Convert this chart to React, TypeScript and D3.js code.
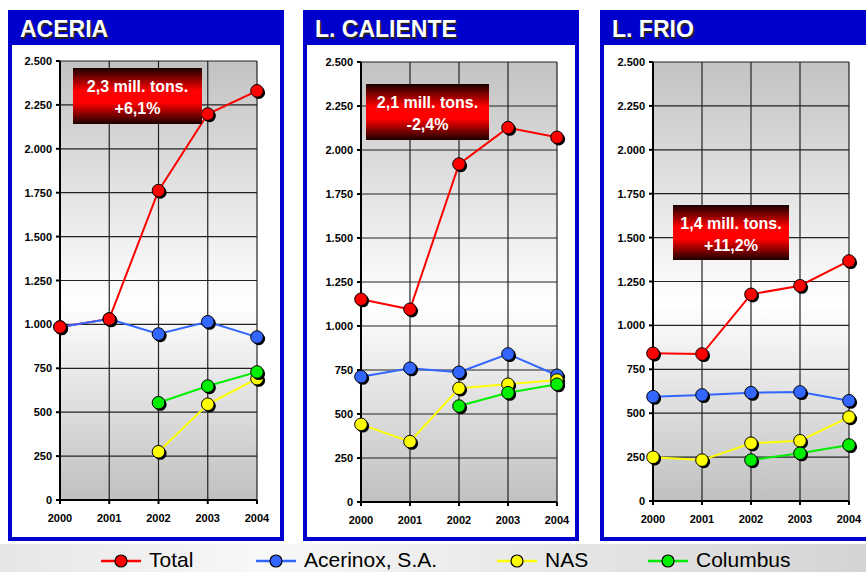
import React from "react";
import * as d3 from "d3";

const years = [2000, 2001, 2002, 2003, 2004];
const yTicks = [0, 250, 500, 750, 1000, 1250, 1500, 1750, 2000, 2250, 2500];
const seriesNames = ["Total", "Acerinox, S.A.", "NAS", "Columbus"];
const seriesColors = ["#ff0000", "#3366ff", "#ffff00", "#00ee00"];

const panelTitles = ["ACERIA", "L. CALIENTE", "L. FRIO"];
const boxLine1 = ["2,3 mill. tons.", "2,1 mill. tons.", "1,4 mill. tons."];
const boxLine2 = ["+6,1%", "-2,4%", "+11,2%"];

// values per panel: Total, Acerinox, NAS, Columbus (null = no data)
const aceriaTotal = [985, 1031, 1762, 2198, 2330];
const aceriaAcerinox = [985, 1030, 945, 1015, 928];
const aceriaNAS = [null, null, 275, 545, 691];
const aceriaColumbus = [null, null, 554, 649, 729];

const calienteTotal = [1152, 1095, 1920, 2127, 2072];
const calienteAcerinox = [712, 760, 737, 841, 720];
const calienteNAS = [441, 343, 646, 669, 693];
const calienteColumbus = [null, null, 545, 621, 669];

const frioTotal = [841, 837, 1177, 1226, 1367];
const frioAcerinox = [594, 604, 617, 621, 571];
const frioNAS = [249, 233, 329, 343, 478];
const frioColumbus = [null, null, 233, 272, 319];

const panelData = [
  [aceriaTotal, aceriaAcerinox, aceriaNAS, aceriaColumbus],
  [calienteTotal, calienteAcerinox, calienteNAS, calienteColumbus],
  [frioTotal, frioAcerinox, frioNAS, frioColumbus],
];

const layout = [
  { ox: 8, left: 60, right: 257, top: 61, bottom: 500, box: [73, 68, 129, 56] },
  { ox: 303, left: 361, right: 557, top: 62, bottom: 502, box: [366, 84, 123, 56] },
  { ox: 600, left: 653, right: 849, top: 62, bottom: 501, box: [673, 205, 116, 55] },
];

const FONT = "'Liberation Sans', Arial, sans-serif";

function Panel({ i }: { i: number }) {
  const L = layout[i];
  const x = d3.scaleLinear().domain([2000, 2004]).range([L.left, L.right]);
  const y = d3.scaleLinear().domain([0, 2500]).range([L.bottom, L.top]);
  const data = panelData[i];
  const line = d3
    .line<[number, number | null]>()
    .defined((d) => d[1] != null)
    .x((d) => x(d[0]))
    .y((d) => y(d[1] as number));
  const pw = 276;
  const markerOrder = [1, 2, 3, 0];
  const [bx, by, bw, bh] = L.box;
  return (
    <g>
      <rect x={L.ox} y={10} width={pw} height={531} fill="#0000cc" />
      <rect x={L.ox + 4} y={45} width={pw - 8} height={492} fill="#ffffff" />
      <text x={L.ox + 13.5} y={38.5} fill="#222" fontFamily={FONT} fontWeight="bold" fontSize={23}>
        {panelTitles[i]}
      </text>
      <text x={L.ox + 12} y={37} fill="#ffffff" fontFamily={FONT} fontWeight="bold" fontSize={23}>
        {panelTitles[i]}
      </text>
      <rect
        x={L.left}
        y={L.top}
        width={L.right - L.left}
        height={L.bottom - L.top}
        fill="url(#plotGrad)"
      />
      {yTicks.map((t) => (
        <line key={"h" + t} x1={L.left} x2={L.right} y1={y(t)} y2={y(t)} stroke="#222" strokeWidth={1.2} />
      ))}
      {years.map((yr) => (
        <line key={"v" + yr} x1={x(yr)} x2={x(yr)} y1={L.top} y2={L.bottom} stroke="#222" strokeWidth={1.2} />
      ))}
      <line x1={L.left} x2={L.left} y1={L.top} y2={L.bottom + 4} stroke="#000" strokeWidth={2} />
      <line x1={L.left} x2={L.right} y1={L.bottom} y2={L.bottom} stroke="#000" strokeWidth={2} />
      {yTicks.map((t) => (
        <g key={"yt" + t}>
          <line x1={L.left - 4} x2={L.left} y1={y(t)} y2={y(t)} stroke="#000" strokeWidth={2} />
          <text
            x={L.left - 8}
            y={y(t) + 4}
            textAnchor="end"
            fontFamily={FONT}
            fontWeight="bold"
            fontSize={11}
            fill="#000"
          >
            {d3.format(",")(t).replace(",", ".")}
          </text>
        </g>
      ))}
      {years.map((yr) => (
        <g key={"xt" + yr}>
          <line x1={x(yr)} x2={x(yr)} y1={L.bottom} y2={L.bottom + 4} stroke="#000" strokeWidth={2} />
          <text
            x={x(yr)}
            y={L.bottom + 22}
            textAnchor="middle"
            fontFamily={FONT}
            fontWeight="bold"
            fontSize={11}
            fill="#000"
          >
            {yr}
          </text>
        </g>
      ))}
      {data.map((vals, si) => (
        <path
          key={"l" + si}
          d={line(years.map((yr, k) => [yr, vals[k]]) as [number, number | null][]) || ""}
          fill="none"
          stroke={seriesColors[si]}
          strokeWidth={2}
        />
      ))}
      {markerOrder.map((si) =>
        data[si].map((v, k) =>
          v == null ? null : (
            <g key={"m" + si + "-" + k}>
              <circle cx={x(years[k]) + 1.8} cy={y(v) + 1.8} r={6.3} fill="#000" />
              <circle cx={x(years[k])} cy={y(v)} r={6.3} fill={seriesColors[si]} stroke="#000" strokeWidth={1} />
            </g>
          )
        )
      )}
      <rect x={bx} y={by} width={bw} height={bh} fill="url(#boxGrad)" />
      <text x={bx + bw / 2} y={by + 24} textAnchor="middle" fontFamily={FONT} fontWeight="bold" fontSize={16} fill="#fff">
        {boxLine1[i]}
      </text>
      <text x={bx + bw / 2} y={by + 46} textAnchor="middle" fontFamily={FONT} fontWeight="bold" fontSize={16} fill="#fff">
        {boxLine2[i]}
      </text>
    </g>
  );
}

const legendX = [121, 276, 517, 668];

export default function App() {
  return (
    <svg width={866} height={572} style={{ position: "absolute", left: 0, top: 0 }}>
      <defs>
        <linearGradient id="plotGrad" x1="0" y1="0" x2="0" y2="1">
          <stop offset="0" stopColor="#c2c2c2" />
          <stop offset="0.55" stopColor="#ffffff" />
          <stop offset="1" stopColor="#c0c0c0" />
        </linearGradient>
        <linearGradient id="boxGrad" x1="0" y1="0" x2="0" y2="1">
          <stop offset="0" stopColor="#1a0000" />
          <stop offset="0.4" stopColor="#ff0000" />
          <stop offset="0.62" stopColor="#ff0000" />
          <stop offset="1" stopColor="#1a0000" />
        </linearGradient>
        <linearGradient id="legGrad" x1="0" y1="0" x2="1" y2="0">
          <stop offset="0" stopColor="#e6e6e6" />
          <stop offset="0.3" stopColor="#f8f8f8" />
          <stop offset="1" stopColor="#d4d4d4" />
        </linearGradient>
      </defs>
      <rect x={0} y={0} width={866} height={572} fill="#ffffff" />
      <rect x={0} y={544} width={866} height={28} fill="url(#legGrad)" />
      {[0, 1, 2].map((i) => (
        <Panel key={i} i={i} />
      ))}
      {seriesNames.map((n, si) => (
        <g key={"leg" + si}>
          <line
            x1={legendX[si] - 20}
            x2={legendX[si] + 20}
            y1={561}
            y2={561}
            stroke={seriesColors[si]}
            strokeWidth={2.5}
          />
          <circle cx={legendX[si]} cy={561} r={6} fill={seriesColors[si]} stroke="#000" strokeWidth={1.2} />
          <text x={legendX[si] + 28} y={567} fontFamily={FONT} fontSize={21} fill="#000">
            {n}
          </text>
        </g>
      ))}
    </svg>
  );
}
